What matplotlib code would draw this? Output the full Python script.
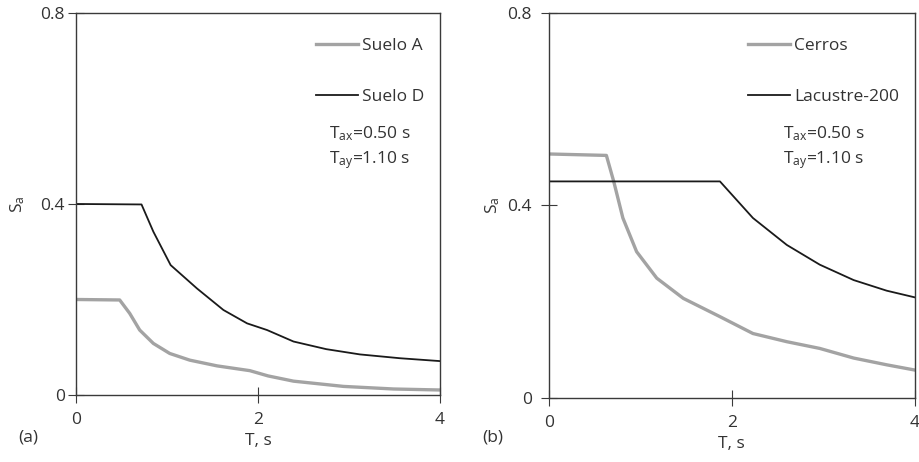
import numpy as np
import matplotlib
matplotlib.use("Agg")
import matplotlib.pyplot as plt

plt.rcParams['font.family'] = ['Open Sans', 'DejaVu Sans']
plt.rcParams['mathtext.fontset'] = 'custom'
plt.rcParams['mathtext.rm'] = 'Open Sans'
plt.rcParams['mathtext.it'] = 'Open Sans'

# panel (a)
t_suelo_a = [0, 0.48, 0.59, 0.70, 0.85, 1.03, 1.25, 1.55, 1.91, 2.11, 2.39, 2.94, 3.49, 4.0]
sa_suelo_a = [0.20, 0.199, 0.171, 0.136, 0.108, 0.087, 0.073, 0.061, 0.051, 0.040, 0.029, 0.018,
              0.0126, 0.0105]
t_suelo_d = [0, 0.72, 0.85, 1.04, 1.33, 1.62, 1.88, 2.10, 2.39, 2.75, 3.12, 3.56, 4.0]
sa_suelo_d = [0.40, 0.399, 0.342, 0.272, 0.223, 0.178, 0.150, 0.136, 0.112, 0.096, 0.085, 0.077,
              0.071]

# panel (b)
t_cerros = [0, 0.63, 0.71, 0.81, 0.96, 1.18, 1.47, 1.87, 2.23, 2.60, 2.96, 3.33, 3.69, 4.0]
sa_cerros = [0.507, 0.504, 0.45, 0.374, 0.304, 0.249, 0.207, 0.169, 0.134, 0.117, 0.103, 0.083,
             0.069, 0.058]
t_lacustre = [0, 1.87, 2.05, 2.23, 2.60, 2.96, 3.33, 3.69, 4.0]
sa_lacustre = [0.45, 0.45, 0.412, 0.374, 0.318, 0.277, 0.245, 0.223, 0.209]

gray = '#a3a3a3'
axcol = '#3a3a3a'
txtcol = '#333333'
fs = 12.5

fig = plt.figure(figsize=(9.2, 4.62), dpi=100)
ax1 = fig.add_axes([0.0826, 0.145, 0.3957, 0.827])
ax2 = fig.add_axes([0.5964, 0.1385, 0.3982, 0.8335])

panels = [
    (ax1, t_suelo_a, sa_suelo_a, 'Suelo A', t_suelo_d, sa_suelo_d, 'Suelo D', 2, 0.695, 0.683, 0.615),
    (ax2, t_cerros, sa_cerros, 'Cerros', t_lacustre, sa_lacustre, 'Lacustre-200', 6, 0.64, 0.686, 0.618),
]

for ax, tg, sg, lg, tk, sk, lk, ypad, tx, ty1, ty2 in panels:
    ax.plot(tg, sg, color=gray, lw=2.4, label=lg, solid_joinstyle='round')
    ax.plot(tk, sk, color='#1a1a1a', lw=1.3, label=lk)
    ax.set_xlim(0, 4)
    ax.set_ylim(0, 0.8)
    ax.set_xticks([0, 2, 4])
    ax.set_xticklabels(['0', '2', '4'])
    ax.set_yticks([0, 0.4, 0.8])
    ax.set_yticklabels(['0', '0.4', '0.8'])
    for s in ax.spines.values():
        s.set_color(axcol)
        s.set_linewidth(1.0)
    ax.tick_params(axis='x', direction='inout', length=12, pad=6, labelsize=fs,
                   colors=axcol, labelcolor=txtcol)
    ax.tick_params(axis='y', direction='inout', length=12, pad=ypad,
                   labelsize=fs, colors=axcol, labelcolor=txtcol)
    ax.set_xlabel('T, s', fontsize=fs, color=txtcol, labelpad=4)
    leg = ax.legend(loc='upper right', bbox_to_anchor=(1.0, 0.975), frameon=False, fontsize=fs,
                    labelspacing=2.0, handlelength=2.4, handletextpad=0.25)
    for txt in leg.get_texts():
        txt.set_color(txtcol)
    ax.text(tx, ty1, 'T$_{\\rm ax}$=0.50 s', transform=ax.transAxes, fontsize=fs,
            color=txtcol, ha='left', va='center')
    ax.text(tx, ty2, 'T$_{\\rm ay}$=1.10 s', transform=ax.transAxes, fontsize=fs,
            color=txtcol, ha='left', va='center')

ax1.set_ylabel('S$_{\\rm a}$', fontsize=fs, color=txtcol)
ax1.yaxis.set_label_coords(-0.135, 0.5)
ax2.set_ylabel('S$_{\\rm a}$', fontsize=fs, color=txtcol)
ax2.yaxis.set_label_coords(-0.127, 0.5)

fig.text(18 / 920, 1 - 437 / 462, '(a)', fontsize=fs, color=txtcol, ha='left', va='center')
fig.text(482 / 920, 1 - 437 / 462, '(b)', fontsize=fs, color=txtcol, ha='left', va='center')

fig.savefig('out.png', dpi=100)
